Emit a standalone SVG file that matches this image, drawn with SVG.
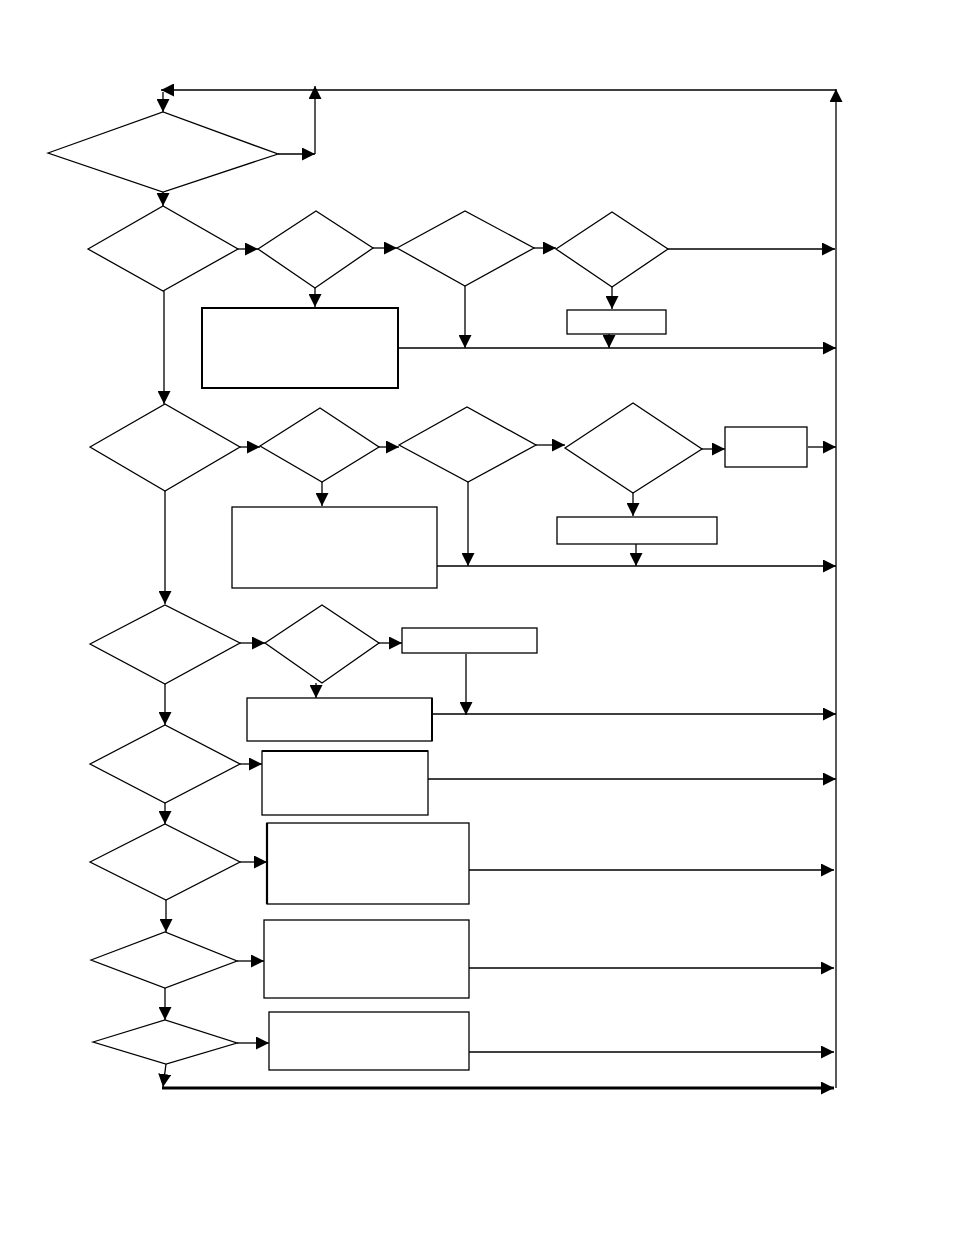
<svg xmlns="http://www.w3.org/2000/svg" width="954" height="1235" viewBox="0 0 954 1235">
<defs>
<marker id="ah" markerUnits="userSpaceOnUse" markerWidth="14" markerHeight="13" refX="13" refY="6.5" orient="auto">
<path d="M0,0 L13,6.5 L0,13 z" fill="#000"/>
</marker>
<style>
.n{fill:#fff;stroke:#000;stroke-width:1.3}
.nt{fill:#fff;stroke:#000;stroke-width:2}
.c{fill:none;stroke:#000;stroke-width:1.3}
.a{fill:none;stroke:#000;stroke-width:1.3;marker-end:url(#ah)}
.ta{fill:none;stroke:#000;stroke-width:3;marker-end:url(#ah)}
</style>
</defs>
<rect width="954" height="1235" fill="#fff"/>
<g id="connectors">
<path class="a" d="M836,90 L161,90"/>
<path class="a" d="M163,92 L163,112"/>
<path class="a" d="M278,154 L315,154"/>
<path class="a" d="M315,154 L315,86"/>
<path class="a" d="M836,1088 L836,89"/>
<path class="a" d="M163,192 L163,206"/>
<path class="a" d="M238,249 L258,249"/>
<path class="a" d="M315,288 L315,307"/>
<path class="a" d="M373,248 L397,248"/>
<path class="a" d="M534,248 L556,248"/>
<path class="a" d="M668,249 L835,249"/>
<path class="a" d="M465,286 L465,348"/>
<path class="a" d="M612,287 L612,309"/>
<path class="a" d="M609,334 L609,348"/>
<path class="a" d="M398,348 L836,348"/>
<path class="a" d="M164,291 L164,404"/>
<path class="a" d="M240,447 L260,447"/>
<path class="a" d="M322,482 L322,506"/>
<path class="a" d="M379,447 L399,447"/>
<path class="a" d="M468,482 L468,566"/>
<path class="a" d="M536,445 L565,445"/>
<path class="a" d="M702,449 L725,449"/>
<path class="a" d="M808,447 L836,447"/>
<path class="a" d="M633,493 L633,516"/>
<path class="a" d="M636,544 L636,566"/>
<path class="a" d="M437,566 L836,566"/>
<path class="a" d="M165,491 L165,604"/>
<path class="a" d="M240,643 L265,643"/>
<path class="a" d="M379,643 L402,643"/>
<path class="a" d="M466,654 L466,715"/>
<path class="a" d="M316,683 L316,698"/>
<path class="a" d="M430,714 L836,714"/>
<path class="a" d="M165,684 L165,725"/>
<path class="a" d="M240,764 L262,764"/>
<path class="a" d="M428,779 L836,779"/>
<path class="a" d="M165,803 L165,824"/>
<path class="a" d="M240,862 L267,862"/>
<path class="a" d="M469,870 L834,870"/>
<path class="a" d="M166,900 L166,932"/>
<path class="a" d="M237,961 L264,961"/>
<path class="a" d="M469,968 L834,968"/>
<path class="a" d="M165,988 L165,1020"/>
<path class="a" d="M237,1043 L269,1043"/>
<path class="a" d="M469,1052 L834,1052"/>
<path class="a" d="M166,1064 L163,1087"/>
<path class="ta" d="M162,1088 L834,1088"/>
</g>
<g id="d1"><polygon class="n" points="48,153 163,112 278,154 163,192"/></g>
<g id="d2"><polygon class="n" points="88,249 163,206 238,249 163,291"/></g>
<g id="d3"><polygon class="n" points="258,249 316,211 373,248 315,288"/></g>
<g id="d4"><polygon class="n" points="397,248 465,211 534,248 465,286"/></g>
<g id="d5"><polygon class="n" points="556,249 612,212 668,249 612,287"/></g>
<g id="bA"><rect class="nt" x="202" y="308" width="196" height="80"/></g>
<g id="bB"><rect class="n" x="567" y="310" width="99" height="24"/></g>
<g id="d6"><polygon class="n" points="90,447 165,404 240,447 165,491"/></g>
<g id="d7"><polygon class="n" points="260,446 320,408 379,447 322,482"/></g>
<g id="d8"><polygon class="n" points="399,445 467,407 536,445 468,482"/></g>
<g id="d9"><polygon class="n" points="565,448 633,403 702,449 633,493"/></g>
<g id="bC"><rect class="n" x="232" y="507" width="205" height="81"/></g>
<g id="bD"><rect class="n" x="725" y="427" width="82" height="40"/></g>
<g id="bE"><rect class="n" x="557" y="517" width="160" height="27"/></g>
<g id="d10"><polygon class="n" points="90,644 165,605 240,643 165,684"/></g>
<g id="d11"><polygon class="n" points="265,643 322,605 379,643 322,683"/></g>
<g id="bF"><rect class="n" x="402" y="628" width="135" height="25"/></g>
<g id="bG"><rect class="n" x="247" y="698" width="185" height="43"/><line x1="432" y1="698" x2="432" y2="741" stroke="#000" stroke-width="2"/></g>
<g id="d12"><polygon class="n" points="90,764 165,725 240,764 165,803"/></g>
<g id="bH"><rect class="n" x="262" y="751" width="166" height="64"/><line x1="262" y1="751" x2="428" y2="751" stroke="#000" stroke-width="2"/></g>
<g id="d13"><polygon class="n" points="90,862 165,824 240,862 166,900"/></g>
<g id="bI"><rect class="n" x="267" y="823" width="202" height="81"/><line x1="267" y1="823" x2="267" y2="904" stroke="#000" stroke-width="2.2"/></g>
<g id="d14"><polygon class="n" points="91,960 165,932 237,961 165,988"/></g>
<g id="bJ"><rect class="n" x="264" y="920" width="205" height="78"/></g>
<g id="d15"><polygon class="n" points="93,1042 165,1020 237,1043 166,1064"/></g>
<g id="bK"><rect class="n" x="269" y="1012" width="200" height="58"/></g>
</svg>
